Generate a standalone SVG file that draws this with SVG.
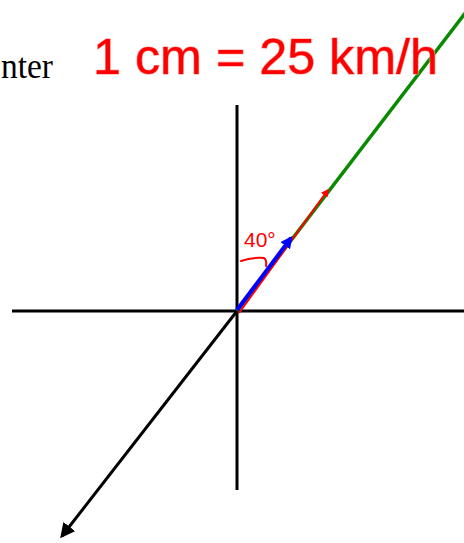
<svg xmlns="http://www.w3.org/2000/svg" width="464" height="543" viewBox="0 0 464 543">
<style>
.axis{stroke:#000;stroke-width:3;fill:none}
.hand{font-family:"Liberation Sans",Arial,sans-serif;fill:#f00;stroke:#f99;stroke-width:1.2;paint-order:stroke}
</style>
<defs>
<marker id="ab" viewBox="0 0 10 10" refX="8" refY="5" markerWidth="5" markerHeight="5" orient="auto" markerUnits="strokeWidth"><path d="M0,0 L10,5 L0,10 z" fill="#000"/></marker>
<marker id="abl" viewBox="0 0 10 10" refX="8" refY="5" markerWidth="3" markerHeight="3" orient="auto" markerUnits="strokeWidth"><path d="M0,0 L10,5 L0,10 z" fill="#00f"/></marker>
<marker id="ar" viewBox="0 0 10 10" refX="8" refY="5" markerWidth="4" markerHeight="4" orient="auto" markerUnits="strokeWidth"><path d="M0,0 L10,5 L0,10 z" fill="#f00"/></marker>
</defs>
<rect width="464" height="543" fill="#fff"/>
<text x="1" y="78" font-family="'Liberation Serif','Times New Roman',serif" font-size="36" fill="#000" textLength="52" lengthAdjust="spacingAndGlyphs">nter</text>
<g id="axes">
<line class="axis" x1="237" y1="105" x2="237" y2="490"/>
<line class="axis" x1="12" y1="311" x2="464" y2="311"/>
</g>
<g id="connectors">
<line class="axis" x1="237" y1="311" x2="62" y2="536" marker-end="url(#ab)"/>
<line x1="237" y1="311" x2="466" y2="12" stroke="#0a8a00" stroke-width="3.5"/>
<line x1="239" y1="313" x2="328" y2="190" stroke="#f00" stroke-width="2" marker-end="url(#ar)"/>
<line x1="237" y1="310" x2="291" y2="238" stroke="#00f" stroke-width="4" marker-end="url(#abl)"/>
</g>
<g id="angle">
<path d="M241,261 Q252,257 264,258 Q267,260 266,266" fill="none" stroke="#f00" stroke-width="2" stroke-linecap="round"/>
<text x="244" y="247" font-family="'Liberation Sans',Arial,sans-serif" font-size="21" fill="#f00">40°</text>
</g>
<g id="scale">
<text class="hand" x="93" y="74" font-size="50" textLength="345" lengthAdjust="spacingAndGlyphs">1 cm = 25 km/h</text>
</g>
</svg>
